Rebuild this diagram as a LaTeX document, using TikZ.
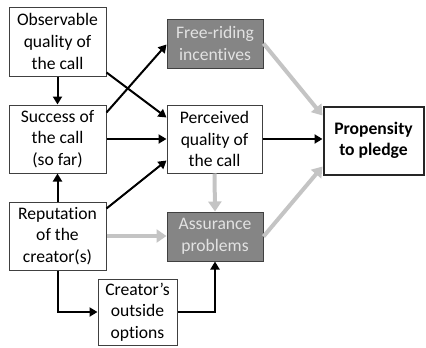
\documentclass[tikz,border=0pt]{standalone}
\usepackage{fontspec}
\setmainfont[Ligatures=NoCommon]{Carlito}
\usetikzlibrary{arrows.meta,calc}
\definecolor{boxgray}{HTML}{858585}
\definecolor{txtgray}{HTML}{E2E2E2}
\definecolor{arrgray}{HTML}{C4C4C4}
\definecolor{edge}{HTML}{404040}
\tikzset{
  box/.style={draw=edge, line width=1pt, fill=white, align=center, inner sep=0pt,
    font=\fontsize{17.6}{21.6}\selectfont},
  graybox/.style={box, fill=boxgray, text=txtgray},
  blk/.style={line width=2pt, black, -{Triangle[length=8pt,width=9pt]}},
  gry/.style={line width=4pt, arrgray, -{Triangle[length=10pt,width=13pt]}},
}
\begin{document}
\begin{tikzpicture}[x=1pt,y=-1pt]
\useasboundingbox (0,0) rectangle (426,348);
\node[box, minimum width=97pt, minimum height=69pt] (obs) at (57.5,41.5) {Observable\\quality of\\the call};
\node[box, minimum width=97pt, minimum height=68pt] (succ) at (57.5,139) {Success of\\the call\\(so far)};
\node[box, minimum width=97pt, minimum height=68pt] (rep) at (57.5,236) {Reputation\\of the\\creator(s)};
\node[box, minimum width=79pt, minimum height=66pt] (cre) at (137.5,312) {Creator’s\\outside\\options};
\node[graybox, minimum width=96pt, minimum height=49pt] (free) at (215,43.5) {Free-riding\\incentives};
\node[box, minimum width=95pt, minimum height=68pt] (perc) at (214.5,139) {Perceived\\quality of\\the call};
\node[graybox, minimum width=96pt, minimum height=49pt] (assur) at (215,236.5) {Assurance\\problems};
\node[box, draw=black!85, line width=2pt, minimum width=100pt, minimum height=68pt, font=\fontsize{17.6}{21.6}\selectfont\bfseries] (prop) at (373.5,140.5) {Propensity\\to pledge};

\draw[blk] (obs.south) -- (succ.north);
\draw[blk] ($(obs.south east)+(0,-4)$) -- ($(perc.north west)+(0,13)$);
\draw[blk] ($(succ.north east)+(0,8)$) -- ($(free.north west)+(0,26)$);
\draw[blk] (succ.east) -- (perc.west);
\draw[blk] ($(rep.north east)+(0,7)$) -- ($(perc.south west)+(0,-13)$);
\draw[blk] (rep.north) -- (succ.south);
\draw[blk] (rep.south) |- (cre.west);
\draw[blk] (cre.east) -| (assur.south);
\draw[blk] (perc.east) -- (perc.east -| prop.west);
\draw[gry] (rep.east) -- (rep.east -| assur.west);
\draw[gry] (perc.south) -- (assur.north);
\draw[gry] ($(free.north east)+(0,25)$) -- ($(prop.north west)+(0,10)$);
\draw[gry] ($(assur.north east)+(0,25)$) -- ($(prop.south west)+(0,-9)$);
\end{tikzpicture}
\end{document}
